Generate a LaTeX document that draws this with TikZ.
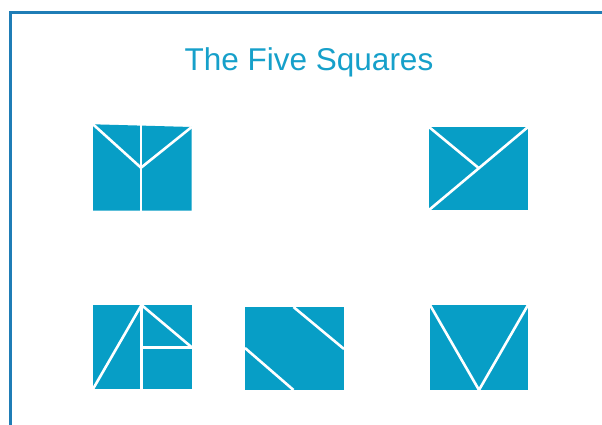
\documentclass[tikz,border=0pt]{standalone}
\usepackage{fontspec}
\setmainfont{Liberation Sans}
\definecolor{frameblue}{HTML}{1F7DB6}
\definecolor{sqfill}{HTML}{079EC6}
\definecolor{titleblue}{HTML}{16A0CA}
\begin{document}
\begin{tikzpicture}[x=1pt,y=-1pt,
  sq/.style={fill=sqfill,draw=none},
  cut/.style={draw=white,line width=2.6pt,line cap=butt},
  frameline/.style={draw=frameblue,line width=2.6pt}]
\useasboundingbox (0,0) rectangle (602,425);
\fill[white] (0,0) rectangle (602,425);
% frame
\draw[frameline] (10.5,426) -- (10.5,12.5) -- (603,12.5);
% title
\node[anchor=base,text=titleblue,font=\fontsize{31.5}{36}\selectfont,inner sep=0pt] (title) at (309,70.7) {The Five Squares};
% square 1
\fill[sq] (93,124.3) -- (191.7,127) -- (191.7,210.7) -- (93,210.7) -- cycle;
\draw[cut] (93,124.3) -- (141,167.7) -- (191.7,127);
\draw[cut] (141,124) -- (141,211);
% square 2
\fill[sq] (429,127) rectangle (528,210);
\draw[cut] (429,210) -- (528,127);
\draw[cut] (429,127) -- (478,167.5);
% square 3
\fill[sq] (93,305) rectangle (192,389);
\draw[cut] (93,389) -- (141.5,305) -- (192,347.5);
\draw[cut] (141.5,305) -- (141.5,389);
\draw[cut] (141.5,347.5) -- (192,347.5);
% square 4
\fill[sq] (245,307) rectangle (344,390);
\draw[cut] (293.5,307) -- (344,349);
\draw[cut] (245,348) -- (293.5,390);
% square 5
\fill[sq] (430,305) rectangle (528,390);
\draw[cut] (430,305) -- (479,390) -- (528,305);
\end{tikzpicture}
\end{document}
